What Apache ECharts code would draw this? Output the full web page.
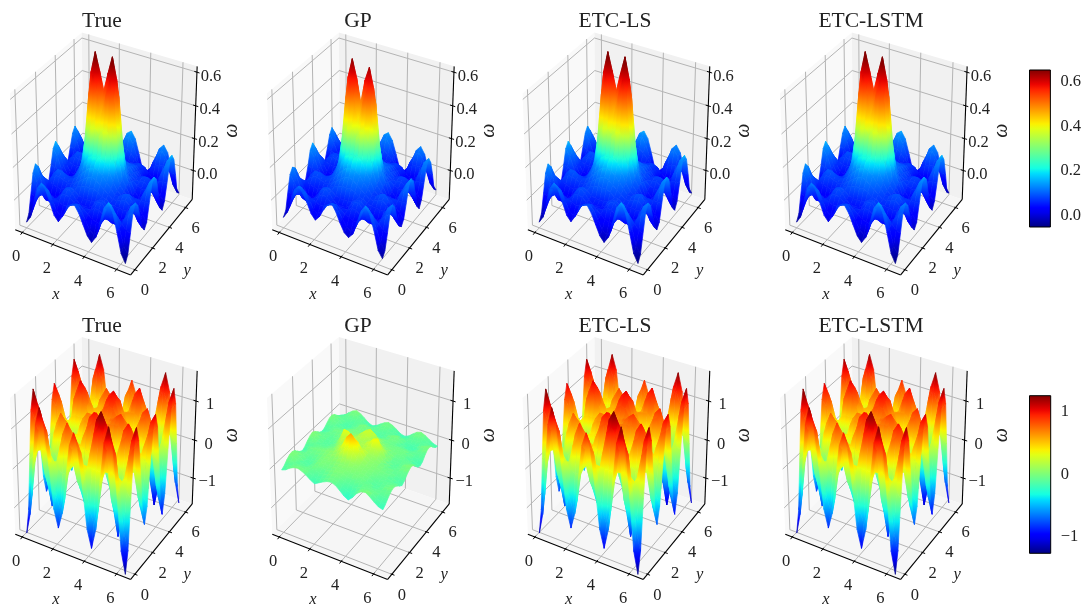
<!DOCTYPE html>
<html><head><meta charset="utf-8">
<style>html,body{margin:0;padding:0;background:#fff}#c{width:1084px;height:611px}</style>
<script src="https://cdn.jsdelivr.net/npm/echarts@6/dist/echarts.min.js"></script>
</head><body><div id="c"></div>
<script>
// Surface heights, hundredths of the z axis unit, [row y][col x], 25x25 over 0..2pi
const omegaTopTrue = [
[-15,-11,-1,9,13,10,3,-4,-7,-3,3,6,7,3,-3,-9,-12,-8,2,12,16,11,0,-12,-17],
[-11,-8,-1,7,10,8,3,-3,-5,-2,3,5,6,3,-2,-7,-9,-6,2,10,13,9,1,-9,-13],
[0,-1,0,2,4,3,2,1,0,1,2,3,4,2,0,-2,-3,-3,1,4,6,5,2,-1,-2],
[11,6,0,-3,-3,-2,1,4,5,4,2,1,1,1,1,3,3,1,-1,-2,-2,0,3,7,9],
[15,9,0,-5,-6,-4,1,5,7,5,2,0,0,0,2,5,6,3,-1,-4,-5,-2,4,10,13],
[12,7,1,-3,-4,-2,1,5,6,5,3,2,2,2,3,5,5,3,0,-2,-3,-1,3,8,10],
[5,4,3,2,1,1,2,3,5,6,7,8,8,8,7,5,5,3,2,2,2,2,2,2,2],
[-3,0,4,6,6,5,4,4,6,8,10,12,13,12,10,8,6,4,4,5,6,4,1,-4,-7],
[-6,-2,5,8,8,6,5,6,8,11,14,16,17,16,14,11,8,5,5,7,8,5,0,-6,-10],
[-3,0,3,5,5,4,4,7,11,16,20,22,22,22,20,16,10,6,4,4,6,4,1,-3,-7],
[5,5,3,2,2,2,4,8,16,29,37,37,33,37,37,29,16,8,5,3,3,3,3,3,3],
[14,10,3,-1,-2,0,5,10,26,54,66,56,44,56,66,54,26,10,6,1,-2,0,5,10,13],
[17,12,3,-2,-3,-1,5,14,34,66,78,68,57,68,78,66,34,14,7,0,-3,0,6,12,16],
[13,9,3,-1,-2,0,5,10,26,54,66,56,44,56,66,54,26,10,6,1,-2,0,5,10,13],
[6,5,3,2,2,2,4,7,14,28,36,36,32,36,36,28,14,7,5,3,2,2,2,2,3],
[-2,1,4,5,5,4,4,6,9,12,16,17,17,17,16,12,9,6,4,4,5,3,0,-4,-8],
[-5,-1,4,7,7,5,4,6,9,10,11,11,11,11,11,10,9,6,4,5,6,3,-2,-8,-11],
[-2,0,3,5,5,4,3,6,8,9,10,9,9,9,10,9,8,5,3,4,4,3,-1,-5,-7],
[5,4,2,1,1,1,3,5,8,7,6,6,6,6,6,7,7,4,1,0,0,1,2,3,3],
[12,8,1,-3,-4,-3,1,4,6,5,3,2,2,2,3,4,5,3,-1,-4,-5,-1,5,11,14],
[15,9,0,-5,-6,-4,1,4,6,4,2,0,0,0,2,4,5,2,-2,-5,-6,-1,6,13,17],
[11,7,0,-3,-3,-2,1,3,4,3,3,2,2,2,2,2,3,2,-1,-3,-3,0,5,10,13],
[3,2,2,3,3,3,2,0,0,2,5,7,8,6,3,0,-3,-2,1,3,4,5,3,2,2],
[-7,-4,3,8,10,8,2,-3,-5,0,7,12,14,10,3,-6,-9,-5,3,9,12,9,1,-7,-11],
[-10,-6,3,10,12,9,2,-4,-6,-1,8,14,16,12,3,-7,-10,-6,3,11,14,10,0,-9,-13]];
const omegaTopGP = [
[-12,-8,0,8,11,8,3,-3,-6,-3,2,6,8,4,-2,-7,-9,-6,2,10,14,10,1,-10,-14],
[-9,-6,0,6,9,7,3,-2,-4,-1,3,5,6,3,-1,-5,-7,-4,2,9,11,8,1,-7,-11],
[1,0,1,2,3,3,2,1,0,1,2,3,4,2,0,-1,-2,-2,1,3,5,4,2,-1,-2],
[10,6,1,-2,-3,-2,1,3,5,4,2,1,1,1,1,3,3,1,-1,-2,-2,0,3,6,8],
[13,8,1,-4,-5,-3,1,5,7,5,2,0,0,0,2,5,6,3,-1,-3,-4,-1,4,9,12],
[11,6,1,-3,-4,-2,1,5,6,5,3,2,2,2,3,5,5,3,0,-2,-3,-1,3,7,9],
[4,3,3,2,1,1,2,3,5,6,7,8,8,8,7,5,5,3,2,2,2,2,2,1,1],
[-3,0,3,5,6,5,4,4,6,8,10,12,13,12,10,8,6,4,4,5,6,4,1,-3,-6],
[-6,-2,4,7,7,6,5,6,8,11,14,16,17,16,14,11,8,5,5,7,8,5,0,-5,-8],
[-2,0,3,5,5,4,5,7,11,16,21,23,23,23,21,16,11,6,4,4,5,4,1,-2,-5],
[5,4,3,2,2,2,4,8,16,29,37,37,32,37,37,29,16,8,5,3,3,3,3,3,3],
[13,9,3,-1,-2,0,5,10,26,52,62,52,38,52,60,50,25,10,6,1,-2,0,5,9,12],
[16,11,3,-2,-3,-1,5,14,33,63,74,64,50,64,72,61,32,13,7,0,-3,0,6,11,15],
[12,8,3,-1,-2,0,5,10,26,52,62,52,38,52,60,50,25,10,6,1,-2,0,5,9,12],
[6,5,3,2,2,2,4,7,15,28,36,36,31,36,36,28,15,7,5,3,2,2,2,2,3],
[-1,1,4,5,5,4,4,6,9,13,17,18,18,18,17,13,9,6,4,4,5,3,0,-3,-7],
[-4,-1,4,6,6,5,4,6,9,10,12,12,12,12,12,10,9,6,4,5,6,3,-2,-7,-10],
[-2,0,3,4,4,4,3,6,8,9,10,9,9,9,10,9,8,5,3,4,4,3,-1,-4,-6],
[4,3,2,1,1,1,3,5,8,7,6,6,6,6,6,7,7,4,1,0,0,1,2,3,3],
[11,7,1,-3,-4,-3,1,4,6,5,3,2,2,2,3,4,5,3,-1,-3,-4,-1,4,10,12],
[14,8,0,-4,-5,-3,1,4,6,4,2,0,0,0,2,4,5,2,-2,-4,-5,-1,5,12,15],
[10,6,0,-3,-3,-2,1,3,4,3,3,2,2,2,2,2,3,2,-1,-3,-3,0,4,9,11],
[3,2,2,3,3,3,2,0,0,2,5,6,7,5,3,0,-2,-2,1,3,4,4,3,2,2],
[-6,-3,3,7,9,7,2,-3,-5,0,6,11,13,9,3,-5,-8,-4,3,8,11,8,1,-6,-9],
[-9,-5,3,9,11,8,2,-4,-6,-1,7,13,15,11,3,-6,-9,-5,3,10,13,9,0,-8,-11]];
const omegaBottomTrue = [
[-172,-119,4,118,161,123,25,-81,-126,-85,6,95,128,92,-3,-102,-146,-95,21,129,170,124,5,-125,-180],
[-117,-72,18,98,128,101,29,-52,-88,-57,15,79,104,79,14,-58,-89,-53,31,106,134,102,17,-80,-127],
[9,21,37,43,45,39,23,6,0,6,21,35,42,41,40,39,39,39,42,44,45,41,32,12,-2],
[125,104,46,-22,-59,-36,16,62,80,66,27,-15,-33,-2,65,120,139,117,52,-30,-69,-31,36,94,114],
[170,135,50,-56,-111,-72,15,84,113,89,31,-39,-71,-22,76,146,168,143,57,-65,-127,-70,38,124,158],
[132,108,43,-31,-73,-45,22,76,95,81,37,-12,-34,3,73,128,147,125,56,-34,-79,-40,36,99,122],
[35,36,25,13,8,16,35,53,60,58,53,47,45,51,64,76,82,74,55,33,24,26,31,35,32],
[-70,-45,7,56,76,68,48,28,19,34,68,97,108,93,56,11,-8,10,53,91,102,84,25,-36,-66],
[-115,-80,0,73,100,87,54,17,-50,24,73,115,129,110,52,-20,-55,-20,52,110,129,103,23,-68,-108],
[-74,-48,8,61,82,74,50,25,15,34,75,109,122,105,59,3,-21,0,52,98,113,92,30,-37,-69],
[18,25,29,33,35,37,42,47,49,58,79,98,103,98,74,49,39,42,53,62,65,59,47,34,23],
[105,91,50,2,-20,-4,34,67,80,80,81,83,83,85,89,92,93,81,53,20,6,24,62,98,107],
[139,116,58,-11,-70,-21,30,75,91,89,83,77,74,81,94,106,115,95,53,3,-20,8,68,120,142],
[105,91,52,9,-9,5,39,70,83,83,84,84,85,88,93,98,100,88,56,20,5,21,59,93,106],
[13,25,39,54,60,60,60,60,60,68,86,104,111,106,89,73,68,66,63,59,58,51,36,22,10],
[-84,-49,26,94,116,107,80,49,35,51,87,118,129,116,85,46,30,42,69,95,103,78,12,-59,-92],
[-126,-81,20,107,136,123,87,44,24,44,87,123,136,122,83,35,14,32,72,106,119,88,1,-95,-137],
[-82,-47,25,92,114,105,79,51,38,52,83,110,120,110,81,49,35,44,64,83,92,67,5,-59,-89],
[22,31,39,46,50,53,60,67,70,71,72,74,74,76,78,81,82,71,46,17,5,8,15,23,19],
[118,101,52,-5,-31,-10,39,82,97,87,60,31,17,35,74,107,119,95,25,-61,-103,-60,25,96,119],
[156,128,57,-28,-71,-39,30,87,107,93,55,12,-9,17,72,117,134,105,17,-99,-155,-92,29,123,159],
[116,100,54,1,-25,-10,31,67,81,72,49,24,13,28,62,93,105,83,20,-56,-91,-50,29,95,117],
[12,26,46,55,59,52,35,17,10,17,36,54,61,56,42,28,23,24,27,30,31,31,30,18,8],
[-100,-57,27,102,130,105,38,-36,-69,-40,23,81,104,81,21,-44,-72,-40,34,101,126,97,20,-66,-110],
[-148,-99,14,119,159,124,34,-63,-104,-69,12,88,119,87,6,-78,-115,-71,31,126,163,120,10,-110,-161]];
const omegaBottomGP = [
[-7,-3,5,10,12,8,2,-6,-12,-6,0,5,7,3,-6,-16,-22,-12,2,10,12,5,-4,-12,-15],
[-2,1,5,8,9,7,4,0,-5,-2,3,7,9,5,-2,-8,-12,-6,3,9,10,6,-1,-7,-9],
[6,7,6,4,4,5,6,5,3,3,6,10,12,9,4,0,-2,0,5,8,7,5,2,0,-1],
[12,11,7,2,0,3,7,9,8,7,9,13,14,13,9,7,6,6,6,6,3,2,4,5,6],
[14,12,7,0,-3,2,8,12,12,10,11,15,15,15,13,12,12,10,6,2,-2,1,5,9,10],
[11,9,6,1,-1,3,9,13,14,13,14,17,18,18,17,15,14,12,8,3,0,2,5,8,9],
[3,4,5,4,3,6,10,14,16,16,19,24,26,24,20,17,15,13,10,6,4,4,4,4,4],
[-4,0,5,7,7,9,12,15,18,21,30,42,48,42,28,20,17,15,12,9,7,5,2,-1,-3],
[-8,-3,5,9,10,11,13,16,20,28,44,66,77,64,40,24,18,16,14,11,9,6,1,-4,-8],
[-3,0,4,7,8,9,12,15,22,30,42,56,62,54,38,26,20,17,14,10,8,5,2,0,-3],
[5,6,5,4,4,6,10,15,24,30,34,36,36,34,32,27,24,20,14,9,6,5,5,5,5],
[11,10,6,2,1,4,9,18,34,36,30,28,26,28,32,36,34,24,14,7,3,3,7,10,11],
[15,12,6,1,0,3,9,26,50,48,34,28,26,30,38,50,54,32,14,5,1,2,8,12,14],
[11,9,5,2,1,4,10,20,32,33,29,27,26,30,34,38,36,24,13,6,3,4,7,9,10],
[4,4,4,3,3,6,11,15,20,24,27,32,35,32,27,24,21,16,11,7,6,5,4,2,1],
[-3,-1,3,6,6,9,12,14,16,20,27,36,40,36,26,18,15,12,10,9,8,5,0,-4,-7],
[-6,-3,2,7,9,10,12,13,14,16,24,34,40,33,22,14,11,10,10,10,10,6,-2,-7,-10],
[-3,-1,3,6,7,9,11,11,12,12,15,18,20,18,14,10,9,8,8,8,7,4,0,-4,-6],
[4,4,3,2,1,4,7,10,10,8,7,7,7,8,8,8,7,5,3,2,1,1,2,3,3],
[10,8,4,-1,-4,-1,4,9,11,8,4,1,0,2,5,8,10,6,0,-4,-6,-2,4,8,10],
[12,9,4,-3,-6,-3,3,9,12,9,3,-1,-3,0,5,9,12,6,-2,-7,-9,-3,5,10,12],
[8,6,3,-1,-3,0,3,6,7,5,2,0,-1,1,3,4,6,3,-1,-4,-6,-2,3,7,8],
[0,1,3,4,4,3,2,0,-2,-1,1,4,6,4,1,-2,-3,-2,0,2,2,2,1,0,0],
[-7,-4,3,8,10,7,2,-5,-8,-5,0,6,9,6,0,-6,-9,-6,1,7,9,6,0,-5,-7],
[-11,-7,2,10,14,9,1,-8,-12,-8,-1,6,10,6,-1,-9,-12,-8,1,9,12,7,0,-7,-10]];

const titles = ['True','GP','ETC-LS','ETC-LSTM'];
const xyTicks = [0,2,4,6];
const zTicksTop = [0,0.2,0.4,0.6];
const zTicksBottom = [-1,0,1];
const cbTicksTop = [0,0.2,0.4,0.6];
const cbTicksBottom = [-1,0,1];
const xyLim = [-0.46,6.86];
const zLimTop = [-0.186,0.634];
const zLimBottom = [-1.70,1.75];
const colorTopZ = [-0.17,0.14,0.38,0.62,0.75];
const colorTopT = [0,0.26,0.63,0.88,1];
const colorBottomZ = [-1.8,1.65];
const colorBottomT = [0,1];
const colorBottomGPZ = [-0.3,0.05,0.8];
const colorBottomGPT = [0.38,0.47,0.74];
const cbRangeTop = [-0.0526,0.6526];
const cbRangeBottom = [-1.266,1.26];

const SERIF = "'Liberation Serif','DejaVu Serif',serif";
const colOff = [0,257,512.6,770], rowOff = [0,304.5];
const titleX = [102,358,615,871], titleY = [21,326];
const SX = 1166, SY = 1380;
const N = omegaTopTrue.length;

function clamp(v){return Math.max(0,Math.min(1,v));}
function jet(t){
  t = clamp(t);
  const r = t<0.35?0:t<0.66?(t-0.35)/0.31:t<0.89?1:1-(t-0.89)/0.11*0.5;
  const g = t<0.125?0:t<0.375?(t-0.125)/0.25:t<0.64?1:t<0.91?1-(t-0.64)/0.27:0;
  const b = t<0.11?0.5+t/0.11*0.5:t<0.34?1:t<0.65?1-(t-0.34)/0.31:0;
  return 'rgb('+Math.round(r*255)+','+Math.round(g*255)+','+Math.round(b*255)+')';
}
function colorOf(z,zs,ts){
  if(z<=zs[0])return jet(ts[0]);
  for(let k=1;k<zs.length;k++){
    if(z<=zs[k])return jet(ts[k-1]+(ts[k]-ts[k-1])*(z-zs[k-1])/(zs[k]-zs[k-1]));
  }
  return jet(ts[ts.length-1]);
}
function makeProject(zLim){
  return function(x,y,z){
    const a=((x-xyLim[0])/(xyLim[1]-xyLim[0])-0.5)*1.142;
    const b=((y-xyLim[0])/(xyLim[1]-xyLim[0])-0.5)*1.142;
    const c=((z-zLim[0])/(zLim[1]-zLim[0])-0.5)*1.126;
    const D=10-(0.433*a-0.75*b+0.5*c);
    return [(0.866*a+0.5*b)/D,(-0.25*a+0.433*b+0.866*c)/D];
  };
}
function surfaceSeries(gridIndex,grid,zLim,zs,ts){
  const P=makeProject(zLim), span=zs[zs.length-1]-zs[0];
  const step=2*Math.PI/(N-1);
  const quads=[];
  for(let j=0;j<N-1;j++)for(let i=0;i<N-1;i++)quads.push([i,j]);
  quads.sort((q,r)=>(0.433*q[0]-0.75*q[1])-(0.433*r[0]-0.75*r[1]));
  return {
    type:'custom',xAxisIndex:gridIndex,yAxisIndex:gridIndex,z:3,silent:true,animation:false,clip:false,progressive:0,
    data:quads,
    renderItem(params,api){
      const i=api.value(0),j=api.value(1);
      const vs=[[i,j],[i+1,j],[i+1,j+1],[i,j+1]].map(q=>{
        const z=grid[q[1]][q[0]]/100;
        return {z,p:api.coord(P(q[0]*step,q[1]*step,z))};
      });
      let lo=vs[0],hi=vs[0];
      vs.forEach(v=>{if(v.z<lo.z)lo=v;if(v.z>hi.z)hi=v;});
      const mean=vs.reduce((s,v)=>s+v.z,0)/4;
      let fill=colorOf(mean,zs,ts);
      if((hi.z-lo.z)/span>0.02 && Math.abs(hi.p[1]-lo.p[1])>1){
        const stops=[];
        for(let k=0;k<=6;k++){
          const z=lo.z+(hi.z-lo.z)*k/6;
          stops.push({offset:k/6,color:colorOf(z,zs,ts)});
        }
        fill=new echarts.graphic.LinearGradient(0,lo.p[1],0,hi.p[1],stops,true);
      }
      return {type:'polygon',shape:{points:vs.map(v=>v.p)},style:{fill,stroke:fill,lineWidth:0.7}};
    }
  };
}
function frameSeries(gridIndex,zLim,zTicks,zFmt){
  const P=makeProject(zLim);
  const [a0,a1]=xyLim,[z0,z1]=zLim;
  return {
    type:'custom',xAxisIndex:gridIndex,yAxisIndex:gridIndex,z:1,silent:true,animation:false,clip:false,
    data:[[0,0]],
    renderItem(params,api){
      const C=(x,y,z)=>api.coord(P(x,y,z));
      const kids=[];
      const poly=(pts,fill)=>kids.push({type:'polygon',shape:{points:pts},style:{fill}});
      const line=(p,q,stroke,w)=>kids.push({type:'line',shape:{x1:p[0],y1:p[1],x2:q[0],y2:q[1]},style:{stroke,lineWidth:w}});
      const text=(s,p,font,rot)=>kids.push({type:'text',x:p[0],y:p[1],rotation:rot||0,style:{text:s,x:0,y:0,font,fill:'#222',align:'center',verticalAlign:'middle'}});
      poly([C(a0,a0,z0),C(a0,a1,z0),C(a0,a1,z1),C(a0,a0,z1)],'#f9f9f9');
      poly([C(a0,a1,z0),C(a1,a1,z0),C(a1,a1,z1),C(a0,a1,z1)],'#f1f1f1');
      poly([C(a0,a0,z0),C(a1,a0,z0),C(a1,a1,z0),C(a0,a1,z0)],'#f6f6f6');
      const G='#b4b4b4';
      xyTicks.forEach(t=>{
        line(C(t,a0,z0),C(t,a1,z0),G,1); line(C(t,a1,z0),C(t,a1,z1),G,1);
        line(C(a0,t,z0),C(a1,t,z0),G,1); line(C(a0,t,z0),C(a0,t,z1),G,1);
      });
      zTicks.forEach(t=>{ line(C(a0,a0,t),C(a0,a1,t),G,1); line(C(a0,a1,t),C(a1,a1,t),G,1); });
      line(C(a0,a0,z0),C(a1,a0,z0),'#000',1.1);
      line(C(a1,a0,z0),C(a1,a1,z0),'#000',1.1);
      line(C(a1,a1,z0),C(a1,a1,z1),'#000',1.1);
      const font="16.5px "+SERIF, ifont="italic 16.5px "+SERIF;
      xyTicks.forEach(t=>{
        const p=C(t,a0,z0); line([p[0]+1,p[1]-1.2],[p[0]-1.6,p[1]+2.2],'#000',1);
        text(String(t),[p[0]-6,p[1]+24.5],font);
        const q=C(a1,t,z0); line([q[0]-1.2,q[1]-0.5],[q[0]+2.6,q[1]+0.9],'#000',1);
        text(String(t),[q[0]+10,q[1]+21],font);
      });
      zTicks.forEach(t=>{
        const p=C(a1,a1,t); line([p[0]-2.6,p[1]-0.8],[p[0]+2.6,p[1]+0.8],'#000',1);
        text(zFmt(t),[p[0]+14,p[1]+4],font);
      });
      const mx=C((a0+a1)/2,a0,z0), my=C(a1,(a0+a1)/2,z0), mz=C(a1,a1,(z0+z1)/2);
      text('x',[mx[0]-15.5,mx[1]+43],ifont);
      text('y',[my[0]+24.3,my[1]+35],ifont);
      text('\u03c9',[mz[0]+37,mz[1]-4],"italic 20px "+SERIF,Math.PI/2);
      return {type:'group',children:kids};
    }
  };
}
function minusFmt(v){return String(v).replace('-','\u2212');}
const fmtTop=v=>v.toFixed(1), fmtBottom=v=>minusFmt(v);

const grids=[],xAxes=[],yAxes=[],series=[],titleOpt=[];
const panels=[
 [0,0,omegaTopTrue,colorTopZ,colorTopT],[0,1,omegaTopGP,colorTopZ,colorTopT],[0,2,omegaTopTrue,colorTopZ,colorTopT],[0,3,omegaTopTrue,colorTopZ,colorTopT],
 [1,0,omegaBottomTrue,colorBottomZ,colorBottomT],[1,1,omegaBottomGP,colorBottomGPZ,colorBottomGPT],[1,2,omegaBottomTrue,colorBottomZ,colorBottomT],[1,3,omegaBottomTrue,colorBottomZ,colorBottomT]];
panels.forEach((p,idx)=>{
  const [r,c,g,zs,ts]=p;
  const x0=105.3+colOff[c], y0=148.9+rowOff[r];
  const L=x0-105,T=y0-148,W=240,H=298;
  grids.push({left:L,top:T,width:W,height:H,show:false});
  xAxes.push({gridIndex:idx,type:'value',show:false,min:(L-x0)/SX,max:(L+W-x0)/SX,scale:true});
  yAxes.push({gridIndex:idx,type:'value',show:false,min:(y0-T-H)/SY,max:(y0-T)/SY,scale:true});
  const zl=r?zLimBottom:zLimTop;
  series.push(frameSeries(idx,zl,r?zTicksBottom:zTicksTop,r?fmtBottom:fmtTop));
  series.push(surfaceSeries(idx,g,zl,zs,ts));
  titleOpt.push({text:titles[c],left:titleX[c],top:titleY[r],padding:0,textAlign:'center',textVerticalAlign:'middle',
    textStyle:{fontFamily:SERIF,fontSize:21.5,fontWeight:'normal',color:'#222'}});
});
// colour bars
[[70,157,cbRangeTop,cbTicksTop,fmtTop],[395.7,157.6,cbRangeBottom,cbTicksBottom,fmtBottom]].forEach((b,k)=>{
  const idx=grids.length;
  grids.push({left:1029.5,top:b[0],width:21.2,height:b[1],show:false});
  xAxes.push({gridIndex:idx,type:'value',show:false,min:0,max:1});
  yAxes.push({gridIndex:idx,type:'value',position:'right',min:b[2][0],max:b[2][1],splitLine:{show:false},
    axisLine:{show:false},
    axisTick:{show:true,length:5,inside:false,customValues:b[3],lineStyle:{color:'#000',width:1}},
    axisLabel:{show:true,margin:10,customValues:b[3],formatter:b[4],fontFamily:SERIF,fontSize:16.5,color:'#222',align:'left'}});
  const stops=[];
  for(let i=0;i<=32;i++)stops.push({offset:i/32,color:jet(1-i/32)});
  series.push({type:'custom',xAxisIndex:idx,yAxisIndex:idx,z:3,silent:true,animation:false,
    data:[[0,b[2][0],1,b[2][1]]],
    renderItem(params,api){
      const p=api.coord([api.value(0),api.value(3)]), q=api.coord([api.value(2),api.value(1)]);
      return {type:'rect',shape:{x:p[0],y:p[1],width:q[0]-p[0],height:q[1]-p[1]},
        style:{fill:new echarts.graphic.LinearGradient(0,0,0,1,stops),stroke:'#000',lineWidth:1}};
    }});
});
const chart=echarts.init(document.getElementById('c'),null,{renderer:'canvas',width:1084,height:611});
chart.setOption({backgroundColor:'#fff',animation:false,title:titleOpt,grid:grids,xAxis:xAxes,yAxis:yAxes,series});
</script></body></html>
